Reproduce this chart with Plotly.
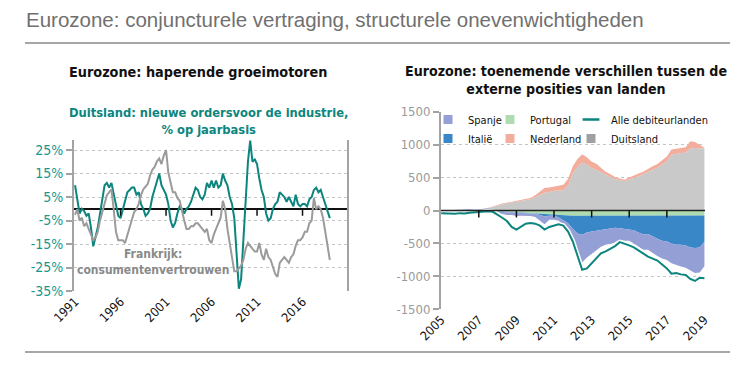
import pandas as pd
import plotly.graph_objects as go

# ---------------- data: left chart (quarterly, 1991Q1 - 2019Q1) ----------------
de_orders_yoy = [
    10, 3, -2, 0,
    -1, -3, -2, -8,
    -16, -12, -8, -2,
    5, 10, 11, 9,
    11, 6, 2, -3,
    -4, 0, 4, 7,
    8, 9, 9, 6,
    7, 2, 0, -3,
    -2, 0, 5, 8,
    12, 15, 10, 8,
    6, 2, -5, -8,
    -6, -2, 1, 0,
    -2, 0, 1, 3,
    6, 9, 8, 5,
    4, 6, 11, 9,
    12, 9, 12, 9,
    10, 15, 12, 10,
    5, 2, -4, -20,
    -34, -30, -14, 4,
    20, 29, 20, 21,
    19, 13, 8, 5,
    -2, -5, -4, 0,
    2, 3, 7, 6,
    5, 3, 5, 3,
    1, 6, 2, 1,
    2, 2, 1, 4,
    5, 8, 9, 7,
    8, 5, 2, 0,
    -4,
]
fr_confidence = [
    102, 104, 100, 101,
    98, 99, 97, 95,
    93, 94, 96, 100,
    103, 106, 109, 110,
    111, 104, 96, 93,
    93, 93, 92, 95,
    98, 100, 103, 104,
    106, 109, 111, 112,
    113, 116, 118, 119,
    121, 122, 120, 123,
    125, 117, 113, 110,
    110, 108, 107, 104,
    100, 97, 97, 98,
    98, 99, 99, 98,
    97, 96, 97, 93,
    92, 95, 97, 99,
    101, 107, 104, 97,
    92, 86, 82, 82,
    83, 84, 86, 90,
    92, 91, 90, 89,
    89, 92, 88, 86,
    90, 87, 86, 83,
    81, 80, 85, 86,
    87, 86, 85, 87,
    88, 91, 93, 93,
    94, 96, 96, 99,
    100, 108, 104, 105,
    104, 101, 96, 90,
    86,
]
left_dates = pd.date_range("1991-01-01", periods=len(de_orders_yoy), freq="QS")
left_y_ticks = [25, 15, 5, -5, -15, -25, -35]
left_y_text = ["25%", "15%", "5%", "-5%", "-15%", "-25%", "-35%"]
right_y_ticks = [125, 115, 105, 95, 85, 75]
right_y_text = ["125", "115", "105", "95", "85", "15"]
left_x_years = [1991, 1996, 2001, 2006, 2011, 2016]

# ---------------- data: right chart (quarterly, 2005Q1 - 2019Q1, bn EUR) ----------------
duitsland = [
    0, 0, 5, 5,
    5, 5, 10, 10,
    10, 20, 40, 60,
    80, 100, 110, 120,
    130, 140, 150, 170,
    200, 230, 270, 280,
    300, 300, 310, 380,
    560, 660, 730, 700,
    640, 620, 580, 540,
    510, 480, 460, 445,
    470, 490, 520, 550,
    590, 620, 650, 700,
    750, 850, 860, 870,
    880, 940, 950, 940,
    950,
]
nederland = [
    0, 0, 0, 0,
    0, 0, 0, 0,
    0, 0, 5, 5,
    5, 5, 10, 10,
    15, 15, 20, 20,
    30, 50, 70, 70,
    60, 70, 80, 100,
    110, 120, 125, 110,
    100, 90, 70, 50,
    40, 30, 25, 20,
    30, 35, 40, 40,
    45, 50, 55, 60,
    70, 75, 80, 80,
    80, 110, 90, 60,
    0,
]
portugal = [
    0, 0, 0, 0,
    0, 0, -5, -5,
    -5, -5, -5, -10,
    -10, -15, -20, -20,
    -25, -30, -30, -35,
    -40, -50, -60, -60,
    -60, -65, -70, -75,
    -80, -80, -80, -75,
    -70, -70, -70, -70,
    -70, -70, -70, -70,
    -70, -70, -75, -75,
    -75, -75, -80, -80,
    -80, -80, -80, -80,
    -80, -80, -80, -80,
    -75,
]
italie = [
    0, 0, 0, 0,
    0, 0, 0, 0,
    0, 0, 0, 0,
    -10, -10, -10, -10,
    -10, -10, -10, -10,
    -10, -20, -30, -20,
    -20, -40, -80, -120,
    -200, -270, -290, -260,
    -250, -240, -220, -210,
    -200, -190, -200, -210,
    -210, -230, -260, -290,
    -280, -320, -350, -380,
    -390, -420, -440, -440,
    -450, -480, -490, -480,
    -400,
]
spanje = [
    0, 5, 0, 10,
    10, 20, 25, 15,
    20, 30, 40, 20,
    -20, -30, -40, -40,
    -50, -40, -40, -40,
    -50, -80, -120, -60,
    -60, -50, -60, -80,
    -160, -280, -420, -380,
    -340, -300, -260, -240,
    -240, -230, -190, -180,
    -180, -200, -210, -230,
    -240, -250, -260, -270,
    -280, -300, -310, -330,
    -340, -350, -380, -380,
    -370,
]
alle_debiteurlanden = [
    -40, -45, -40, -50,
    -40, -45, -35, -30,
    -30, -20, -10, -20,
    -60, -110, -160, -250,
    -290, -240, -200, -190,
    -200, -230, -290, -250,
    -230, -210, -230, -320,
    -470, -680, -900, -880,
    -800, -720, -650, -620,
    -580, -540, -480, -500,
    -530, -560, -610, -650,
    -700, -730, -760, -820,
    -880, -960, -950, -970,
    -980, -1040, -1070, -1020,
    -1030,
]
right_dates = pd.date_range("2005-01-01", periods=len(duitsland), freq="QS")
right_y_ticks = [1500, 1000, 500, 0, -500, -1000, -1500]
right_y_text = ["1500", "1000", "500", "0", "-500", "-1000", "-1500"]
right_x_years = [2005, 2007, 2009, 2011, 2013, 2015, 2017, 2019]

# ---------------- styling ----------------
W, H = 753, 370
NARROW = "Liberation Sans Narrow, DejaVu Sans Condensed, Arial Narrow, Liberation Sans, sans-serif"
TEAL = "#0b857e"
TEAL_LABEL = "#1a9690"
GRAY_LINE = "#9b9b9b"
AXIS_GRAY = "#a3a3a3"
C_DE, C_DE_LEG = "#c9c9c9", "#a0a0a0"
C_NL = "#f2ad9c"
C_ES = "#939fd5"
C_PT = "#afdcae"
C_IT = "#3a87c8"


def px_x(p):
    return p / W


def px_y(p):
    return (H - p) / H


fig = go.Figure()

# left chart traces
fig.add_trace(go.Scatter(x=left_dates, y=de_orders_yoy, mode="lines",
                         line=dict(color=TEAL, width=2), showlegend=False,
                         xaxis="x", yaxis="y"))
fig.add_trace(go.Scatter(x=left_dates, y=fr_confidence, mode="lines",
                         line=dict(color=GRAY_LINE, width=2), showlegend=False,
                         xaxis="x", yaxis="y2"))

# right chart: stacked areas
for name, vals, col in [("Duitsland", duitsland, C_DE), ("Nederland", nederland, C_NL)]:
    fig.add_trace(go.Scatter(x=right_dates, y=vals, mode="lines", stackgroup="pos",
                             line=dict(width=0), fillcolor=col, name=name,
                             showlegend=False, xaxis="x2", yaxis="y3"))
for name, vals, col in [("Portugal", portugal, C_PT), ("Italië", italie, C_IT), ("Spanje", spanje, C_ES)]:
    fig.add_trace(go.Scatter(x=right_dates, y=vals, mode="lines", stackgroup="neg",
                             line=dict(width=0), fillcolor=col, name=name,
                             showlegend=False, xaxis="x2", yaxis="y3"))
fig.add_trace(go.Scatter(x=right_dates, y=alle_debiteurlanden, mode="lines",
                         line=dict(color="white", width=5), showlegend=False,
                         xaxis="x2", yaxis="y3"))
fig.add_trace(go.Scatter(x=right_dates, y=alle_debiteurlanden, mode="lines",
                         line=dict(color=TEAL, width=2), showlegend=False,
                         xaxis="x2", yaxis="y3"))

# legend entries (three columns, two rows)
legend_items = [
    ("Spanje", C_ES, "legend"), ("Italië", C_IT, "legend"),
    ("Portugal", C_PT, "legend2"), ("Nederland", C_NL, "legend2"),
]
for name, col, lg in legend_items:
    fig.add_trace(go.Scatter(x=[None], y=[None], mode="markers", name=name,
                             marker=dict(symbol="square", size=9, color=col),
                             legend=lg, xaxis="x2", yaxis="y3"))
fig.add_trace(go.Scatter(x=[None], y=[None], mode="markers", name="Alle debiteurlanden",
                         marker=dict(symbol="line-ew", size=12, line=dict(width=2.5, color=TEAL)),
                         legend="legend3", xaxis="x2", yaxis="y3"))
fig.add_trace(go.Scatter(x=[None], y=[None], mode="markers", name="Duitsland",
                         marker=dict(symbol="square", size=9, color=C_DE_LEG),
                         legend="legend3", xaxis="x2", yaxis="y3"))

leg_common = dict(orientation="v", xanchor="left", yanchor="top", bgcolor="rgba(0,0,0,0)",
                  font=dict(family=NARROW, size=11, color="#111"), tracegroupgap=0,
                  traceorder="normal", itemclick=False, itemdoubleclick=False)

tick_font = dict(family=NARROW, size=12.5, color="#111")

fig.update_layout(
    width=W, height=H, margin=dict(l=0, r=0, t=0, b=0),
    paper_bgcolor="white", plot_bgcolor="white",
    showlegend=True,
    legend=dict(x=px_x(428), y=px_y(105), **leg_common),
    legend2=dict(x=px_x(490), y=px_y(105), **leg_common),
    legend3=dict(x=px_x(571), y=px_y(105), **leg_common),
    xaxis=dict(domain=[px_x(74), px_x(347)], type="date",
               range=["1990-11-20", "2020-11-20"],
               tickvals=[f"{y}-01-01" for y in left_x_years],
               ticktext=[str(y) for y in left_x_years],
               tickangle=-45, tickfont=tick_font, showgrid=False, showline=False,
               ticks="", zeroline=False, anchor="y", automargin=False),
    yaxis=dict(domain=[px_y(291), px_y(140)], range=[-35, 29.26],
               tickvals=left_y_ticks, ticktext=left_y_text,
               tickfont=dict(family=NARROW, size=14, color=TEAL_LABEL),
               showgrid=True, gridcolor="#c4c4c4", griddash="dot", gridwidth=1,
               zeroline=True, zerolinecolor="#111", zerolinewidth=1.5,
               showline=True, linecolor=AXIS_GRAY, linewidth=2,
               ticks="outside", ticklen=6, tickcolor=AXIS_GRAY, tickwidth=2,
               anchor="x", automargin=False),
    yaxis2=dict(overlaying="y", side="right", anchor="x", range=[75, 128.55],
                tickvals=right_y_ticks, ticktext=right_y_text,
                tickfont=dict(family=NARROW, size=14, color="#8e8e8e"),
                ticklabelstandoff=3,
                showgrid=False, zeroline=False,
                showline=True, linecolor=AXIS_GRAY, linewidth=2,
                ticks="outside", ticklen=6, tickcolor=AXIS_GRAY, tickwidth=2,
                automargin=False),
    xaxis2=dict(domain=[px_x(441), px_x(705)], type="date",
                range=["2004-12-28", "2019-01-12"],
                tickvals=[f"{y}-01-01" for y in right_x_years],
                ticktext=[str(y) for y in right_x_years],
                tickangle=-45, tickfont=tick_font, showgrid=False, showline=False,
                ticks="", zeroline=False, anchor="y3", automargin=False),
    yaxis3=dict(domain=[px_y(309.3), px_y(111.7)], range=[-1500, 1500], anchor="x2",
                tickvals=right_y_ticks, ticktext=right_y_text,
                tickfont=dict(family=NARROW, size=13, color="#9a9a9a"),
                showgrid=True, gridcolor="#c4c4c4", griddash="dot", gridwidth=1,
                zeroline=False,
                showline=True, linecolor=AXIS_GRAY, linewidth=2,
                ticks="outside", ticklen=6, tickcolor=AXIS_GRAY, tickwidth=2,
                automargin=False),
)

shapes = [
    dict(type="line", xref="paper", yref="paper", x0=px_x(25), x1=px_x(730),
         y0=px_y(43), y1=px_y(43), line=dict(color="#8a8a8a", width=1.5)),
    dict(type="line", xref="paper", yref="paper", x0=px_x(25), x1=px_x(730),
         y0=px_y(352), y1=px_y(352), line=dict(color="#8a8a8a", width=1.5)),
    # zero line of the right chart, drawn above the areas
    dict(type="line", xref="x2 domain", yref="y3", x0=0, x1=1, y0=0, y1=0,
         line=dict(color="#222", width=1.5), layer="above"),
]
for y in left_x_years[1:]:
    shapes.append(dict(type="line", xref="x", yref="y", ysizemode="pixel", yanchor=0,
                       x0=f"{y}-01-01", x1=f"{y}-01-01", y0=0, y1=-7,
                       line=dict(color="#111", width=1.5), layer="above"))
for y in right_x_years[1:-1]:
    shapes.append(dict(type="line", xref="x2", yref="y3", ysizemode="pixel", yanchor=0,
                       x0=f"{y}-01-01", x1=f"{y}-01-01", y0=0, y1=-7,
                       line=dict(color="#111", width=1.5), layer="above"))
fig.update_layout(shapes=shapes)

annotations = [
    dict(text="Eurozone: conjuncturele vertraging, structurele onevenwichtigheden",
         x=px_x(24), y=px_y(19), xanchor="left", yanchor="middle",
         font=dict(family="Liberation Sans, Arial, sans-serif", size=20.5, color="#707070")),
    dict(text="<b>Eurozone: haperende groeimotoren</b>", x=px_x(198), y=px_y(72),
         xanchor="center", yanchor="middle",
         font=dict(family=NARROW, size=14.3, color="#111")),
    dict(text="<b>Eurozone: toenemende verschillen tussen de<br>externe posities van landen</b>",
         x=px_x(566), y=px_y(80), xanchor="center", yanchor="middle",
         font=dict(family=NARROW, size=14.1, color="#111")),
    dict(text="<b>Duitsland: nieuwe ordersvoor de industrie,<br>% op jaarbasis</b>",
         x=px_x(209), y=px_y(121), xanchor="center", yanchor="middle",
         font=dict(family=NARROW, size=12.8, color=TEAL)),
    dict(text="<b>Frankrijk:<br>consumentenvertrouwen</b>",
         x=px_x(153), y=px_y(262), xanchor="center", yanchor="middle",
         font=dict(family=NARROW, size=12, color="#8a8a8a")),
]
for a in annotations:
    a.update(xref="paper", yref="paper", showarrow=False)
fig.update_layout(annotations=annotations)

fig.write_html("out.html", config={"displayModeBar": False},
               post_script="document.body.style.margin='0px';document.body.style.overflow='hidden';")
